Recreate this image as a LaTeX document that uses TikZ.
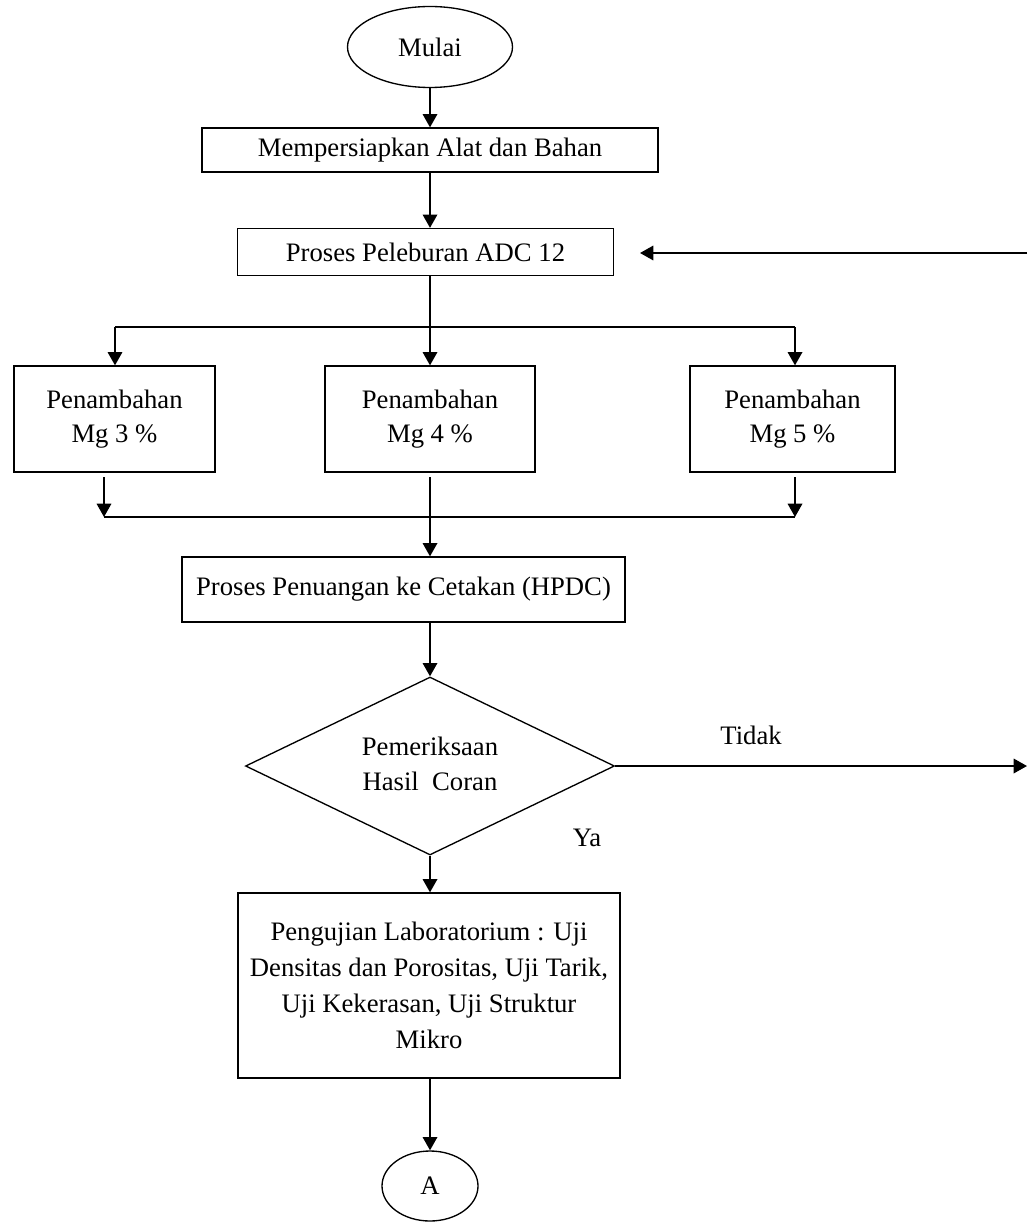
\documentclass[tikz,border=0pt]{standalone}
\usepackage{fontspec}
\setmainfont{Liberation Serif}
\usetikzlibrary{shapes.geometric, arrows.meta}
\newcommand{\px}{0.45pt}

\begin{document}
\begin{tikzpicture}[x=\px, y=-\px,
  font=\fontsize{12}{15.5}\selectfont,
  termb/.style={draw, ellipse, line width=0.6pt, inner sep=0pt},
  procb/.style={draw, line width=0.55pt, align=center, inner sep=0pt},
  decb/.style={draw, diamond, aspect=2, line width=0.6pt, align=center, inner sep=0pt,
               minimum width=369*\px, minimum height=178*\px},
  arr/.style={-{Triangle[length=6pt, width=6.5pt]}, line width=0.9pt},
  lin/.style={line width=0.9pt},
]
\useasboundingbox (0,0) rectangle (1027,1222);

% Start
\node[termb, minimum width=165*\px, minimum height=81*\px] (mulai) at (430,47) {Mulai};

% Preparation and melting
\node[procb, minimum width=456*\px, minimum height=44*\px] (siap) at (430,150) {Mempersiapkan Alat dan Bahan};
\node[procb, minimum width=376*\px, minimum height=47*\px] (lebur) at (425.5,252) {Proses Peleburan ADC 12};

% Mg additions
\node[procb, minimum width=201*\px, minimum height=106*\px] (mg3) at (114.5,419) {Penambahan\\Mg 3 \%};
\node[procb, minimum width=210*\px, minimum height=106*\px] (mg4) at (430,419) {Penambahan\\Mg 4 \%};
\node[procb, minimum width=205*\px, minimum height=106*\px] (mg5) at (792.5,419) {Penambahan\\Mg 5 \%};

% Casting
\node[procb, minimum width=443*\px, minimum height=65*\px] (tuang) at (403.5,589.5) {Proses Penuangan ke Cetakan (HPDC)};

% Inspection
\node[decb] (periksa) at (430,766) {\raisebox{3pt}{\begin{tabular}{@{}c@{}}Pemeriksaan\\Hasil\ \ Coran\end{tabular}}};

% Lab tests
\node[procb, minimum width=382*\px, minimum height=185*\px, font=\fontsize{12}{16.2}\selectfont] (uji) at (429,985.5)
  {Pengujian Laboratorium : Uji\\Densitas dan Porositas, Uji Tarik,\\Uji Kekerasan, Uji Struktur\\Mikro};

% Connector to next page
\node[termb, minimum width=96*\px, minimum height=70*\px] (a) at (430,1186) {A};

% Junction points
\coordinate (cabang)  at (430,327);
\coordinate (kiri1)   at (115,327);
\coordinate (kanan1)  at (795,327);
\coordinate (kiri2)   at (104,517);
\coordinate (kanan2)  at (795,517);
\coordinate (balik)   at (1027,253);
\coordinate (balikujung) at (640,253);
\coordinate (tidak)   at (1027,766);

% Arrows: start -> preparation -> melting
\draw[arr] (mulai.south) -- (siap.north);
\draw[arr] (siap.south) -- (siap.south |- lebur.north);

% Arrows: melting -> Mg boxes
\draw[lin] (lebur.south -| cabang) -- (cabang);
\draw[lin] (kiri1) -- (kanan1);
\draw[arr] (kiri1) -- (kiri1 |- mg3.north);
\draw[arr] (cabang) -- (mg4.north);
\draw[arr] (kanan1) -- (kanan1 |- mg5.north);

% Arrows: Mg boxes -> casting
\draw[arr, shorten <=2pt] (mg3.south -| kiri2) -- (kiri2);
\draw[arr, shorten <=2pt] (mg5.south -| kanan2) -- (kanan2);
\draw[lin] (kiri2) -- (kanan2);
\draw[arr, shorten <=2pt] (mg4.south) -- (mg4.south |- tuang.north);

% Arrows: casting -> inspection
\draw[arr] (tuang.south -| periksa) -- (periksa.north);

% Arrows: inspection -> no / yes
\draw[arr] (periksa.east) -- node[pos=0.33, above=13*\px] (lbltidak) {Tidak} (tidak);
\draw[arr] (periksa.south) -- (periksa.south |- uji.north);
\node (lblya) at (587,838) {Ya};

% Arrow: back to melting
\draw[arr] (balik) -- (balikujung);

% Arrow: tests -> A
\draw[arr] (uji.south -| a) -- (a.north);

\end{tikzpicture}
\end{document}
